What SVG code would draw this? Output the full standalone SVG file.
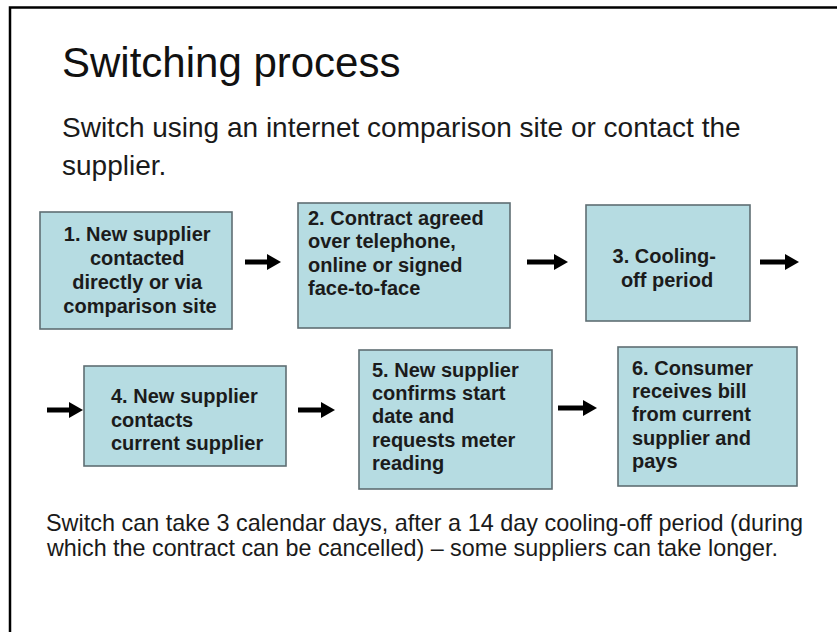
<svg xmlns="http://www.w3.org/2000/svg" width="837" height="632" viewBox="0 0 837 632">
<style>
  .frame{stroke:#000;stroke-width:2.5;fill:none}
  .box{fill:#b6dce2;stroke:#5f6e73;stroke-width:1.6}
  .bt{font-family:"Liberation Sans",Arial,sans-serif;font-weight:bold;font-size:20px;fill:#1b1b1b}
  .title{font-family:"Liberation Sans",Arial,sans-serif;font-size:42px;fill:#111}
  .sub{font-family:"Liberation Sans",Arial,sans-serif;font-size:28px;fill:#1a1a1a}
  .foot{font-family:"Liberation Sans",Arial,sans-serif;font-size:24px;fill:#1a1a1a}
  .arr{stroke:#000;stroke-width:5;fill:none}
</style>
<defs>
  <marker id="ah" markerUnits="userSpaceOnUse" markerWidth="14" markerHeight="16" refX="0" refY="8" orient="auto">
    <path d="M0,0 L14,8 L0,16 Z" fill="#000"/>
  </marker>
</defs>
<rect width="837" height="632" fill="#fff"/>
<path class="frame" d="M10,632 V7.5 H837"/>

<text class="title" x="62" y="77">Switching process</text>
<text class="sub" x="62" y="137">Switch using an internet comparison site or contact the</text>
<text class="sub" x="62" y="175">supplier.</text>

<g id="connectors">
  <line class="arr" x1="245" y1="262" x2="267" y2="262" marker-end="url(#ah)"/>
  <line class="arr" x1="527" y1="262" x2="554" y2="262" marker-end="url(#ah)"/>
  <line class="arr" x1="760" y1="262" x2="785" y2="262" marker-end="url(#ah)"/>
  <line class="arr" x1="47" y1="410" x2="69" y2="410" marker-end="url(#ah)"/>
  <line class="arr" x1="298" y1="410" x2="321" y2="410" marker-end="url(#ah)"/>
  <line class="arr" x1="558" y1="408" x2="583" y2="408" marker-end="url(#ah)"/>
</g>

<g id="n1">
  <rect class="box" x="40" y="212" width="192" height="117"/>
  <text class="bt" text-anchor="middle">
    <tspan x="140" y="241">1. New supplier</tspan>
    <tspan x="140" y="265">contacted</tspan>
    <tspan x="140" y="289">directly or via</tspan>
    <tspan x="140" y="313">comparison site</tspan>
  </text>
</g>
<g id="n2">
  <rect class="box" x="298" y="203" width="212" height="125"/>
  <text class="bt">
    <tspan x="308" y="225">2. Contract agreed</tspan>
    <tspan x="308" y="248">over telephone,</tspan>
    <tspan x="308" y="272">online or signed</tspan>
    <tspan x="308" y="295">face-to-face</tspan>
  </text>
</g>
<g id="n3">
  <rect class="box" x="586" y="205" width="164" height="116"/>
  <text class="bt" text-anchor="middle">
    <tspan x="667" y="263">3. Cooling-</tspan>
    <tspan x="667" y="287">off period</tspan>
  </text>
</g>
<g id="n4">
  <rect class="box" x="84" y="366" width="202" height="100"/>
  <text class="bt">
    <tspan x="111" y="403">4. New supplier</tspan>
    <tspan x="111" y="427">contacts</tspan>
    <tspan x="111" y="450">current supplier</tspan>
  </text>
</g>
<g id="n5">
  <rect class="box" x="359" y="350" width="193" height="139"/>
  <text class="bt">
    <tspan x="372" y="377">5. New supplier</tspan>
    <tspan x="372" y="400">confirms start</tspan>
    <tspan x="372" y="423">date and</tspan>
    <tspan x="372" y="447">requests meter</tspan>
    <tspan x="372" y="470">reading</tspan>
  </text>
</g>
<g id="n6">
  <rect class="box" x="618" y="347" width="179" height="139"/>
  <text class="bt">
    <tspan x="632" y="375">6. Consumer</tspan>
    <tspan x="632" y="398">receives bill</tspan>
    <tspan x="632" y="421">from current</tspan>
    <tspan x="632" y="445">supplier and</tspan>
    <tspan x="632" y="468">pays</tspan>
  </text>
</g>

<text class="foot" x="46" y="531" textLength="757" lengthAdjust="spacingAndGlyphs">Switch can take 3 calendar days, after a 14 day cooling-off period (during</text>
<text class="foot" x="47" y="556" textLength="731" lengthAdjust="spacingAndGlyphs">which the contract can be cancelled) – some suppliers can take longer.</text>
</svg>
